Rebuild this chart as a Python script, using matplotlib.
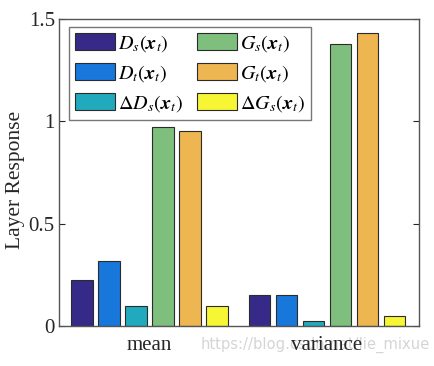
import numpy as np
import matplotlib.pyplot as plt

plt.rcParams['font.family'] = ['Liberation Serif', 'DejaVu Serif']
plt.rcParams['mathtext.fontset'] = 'stix'

# 数据
groups = ['mean', 'variance']
labels = [r'$D_s(\boldsymbol{x}_t)$', r'$D_t(\boldsymbol{x}_t)$', r'$\Delta D_s(\boldsymbol{x}_t)$',
          r'$G_s(\boldsymbol{x}_t)$', r'$G_t(\boldsymbol{x}_t)$', r'$\Delta G_s(\boldsymbol{x}_t)$']
D_s = [0.225, 0.15]
D_t = [0.32, 0.15]
dD_s = [0.10, 0.023]
G_s = [0.974, 1.378]
G_t = [0.955, 1.43]
dG_s = [0.10, 0.048]
colors = ['#352a87', '#1777db', '#21a9be', '#7ebf7e', '#edb650', '#f6f634']

series = [D_s, D_t, dD_s, G_s, G_t, dG_s]

fig = plt.figure(figsize=(4.34, 3.66), dpi=100)
ax = fig.add_axes([59/434, 1-326/366, 360/434, 307/366])

x = np.arange(1, len(groups)+1)
step = 0.152
w = 0.122
for i, (s, c, l) in enumerate(zip(series, colors, labels)):
    ax.bar(x + (i-2.5)*step, s, w, color=c, edgecolor='#2b2b2b', linewidth=0.8, label=l)

ax.set_xlim(0.492, 2.518)
ax.set_ylim(0, 1.5)
ax.set_yticks([0, 0.5, 1, 1.5])
ax.set_yticklabels(['0', '0.5', '1', '1.5'])
ax.set_xticks(x)
ax.set_xticklabels(groups)
ax.tick_params(direction='in', labelsize=15, colors='#262626', length=4, right=True, top=False)
ax.tick_params(axis='y', pad=3)
ax.tick_params(axis='x', length=0, pad=7)
for sp in ax.spines.values():
    sp.set_color('#555555')
    sp.set_linewidth(1.0)
ax.set_ylabel('Layer Response', fontsize=15.5, color='#262626')
ax.yaxis.set_label_coords(-0.094, 0.476)

leg = ax.legend(ncol=2, loc='upper left', bbox_to_anchor=(0.028, 0.974), fontsize=14.5,
                frameon=True, fancybox=False, edgecolor='#555555', handlelength=2.0,
                handleheight=0.85, columnspacing=0.65, labelspacing=0.45, handletextpad=0.15,
                borderpad=0.3, borderaxespad=0)
leg.get_frame().set_linewidth(1.0)

# 水印
fig.text(0.99, 1-345/366, 'https://blog.csdn.net/lie_mixue', color='#d5d5d5',
         fontsize=10.6, family='DejaVu Sans', ha='right', va='center', zorder=-1)

fig.savefig('out.png', dpi=100)
